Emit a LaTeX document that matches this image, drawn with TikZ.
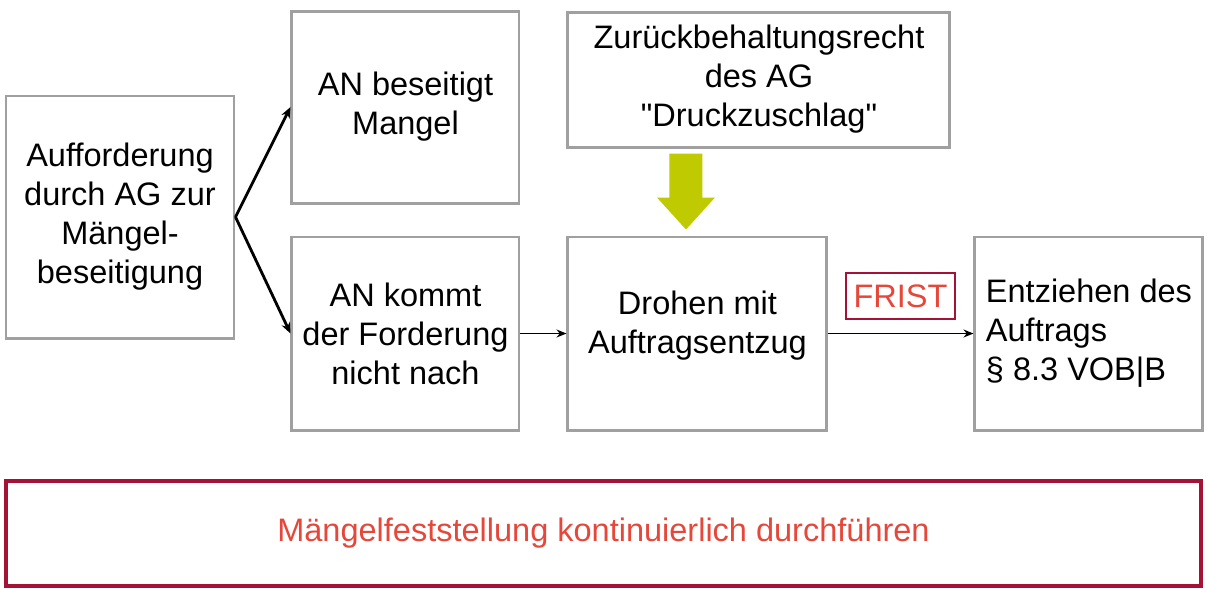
\documentclass[tikz,border=0pt]{standalone}
\usepackage{fontspec}
\setmainfont{Liberation Sans}[Ligatures=TeXOff]
\usetikzlibrary{arrows.meta, positioning, calc}
\definecolor{rahmengrau}{HTML}{A0A0A0}
\definecolor{weinrot}{HTML}{A51237}
\definecolor{textrot}{HTML}{E5473A}
\definecolor{lindgruen}{HTML}{BFCB00}
\tikzstyle{kasten} = [rectangle, draw=rahmengrau, line width=1.7pt, align=center, inner sep=0pt, font=\fontsize{18.5}{22.2}\selectfont]
\tikzstyle{rotkasten} = [rectangle, draw=weinrot, text=textrot, inner sep=0pt, font=\fontsize{18.5}{22.2}\selectfont]
\tikzstyle{pfeil} = [line width=1.6pt, -{Stealth[length=2.2mm, width=1.8mm]}]
\tikzstyle{linie} = [line width=0.8pt, -{Stealth[length=2mm, width=1.6mm]}]

\begin{document}
\begin{tikzpicture}
    \useasboundingbox (0,0) rectangle (24.34,-11.86);
    % Nodes
    \node[kasten, minimum width=4.56cm, minimum height=4.84cm] (aufford) at (2.40,-4.34) {Aufforderung\\durch AG zur\\Mängel-\\beseitigung};
    \node[kasten, minimum width=4.54cm, minimum height=3.86cm, anchor=west] (kommt) at ([xshift=1.10cm, yshift=-2.33cm]aufford.east) {AN kommt\\der Forderung\\nicht nach};
    \node[kasten, minimum width=4.54cm, minimum height=3.84cm, above=0.62cm of kommt] (beseitigt) {AN beseitigt\\Mangel};
    \node[kasten, minimum width=5.18cm, minimum height=3.86cm, text depth=0.47cm, right=0.92cm of kommt] (drohen) {Drohen mit\\Auftragsentzug};
    \node[kasten, minimum width=4.56cm, minimum height=3.86cm, right=2.90cm of drohen, align=left] (entzug) {Entziehen des\\Auftrags\\§ 8.3 VOB|B};
    \node[kasten, minimum width=7.64cm, minimum height=2.70cm, anchor=south west] (zurueck) at ([yshift=1.74cm]drohen.north west) {Zurückbehaltungsrecht\\des AG\\"Druckzuschlag"};

    % Frist und Hinweis
    \node[rotkasten, line width=0.9pt, minimum width=2.18cm, minimum height=0.92cm] (frist) at (18.01,-5.92) {FRIST};
    \node[rotkasten, line width=2.2pt, minimum width=23.9cm, minimum height=2.1cm] (hinweis) at (12.07,-10.67) {Mängelfeststellung kontinuierlich durchführen};

    % Druckpfeil
    \coordinate (spitze) at ([xshift=-0.23cm, yshift=0.12cm]drohen.north);
    \fill[lindgruen] (spitze) -- ++(-0.58,0.64) -- ++(0.25,0) -- ++(0,0.88) -- ++(0.66,0) -- ++(0,-0.88) -- ++(0.25,0) -- cycle;

    % Arrows
    \draw[pfeil] (aufford.east) -- (beseitigt.west);
    \draw[pfeil] (aufford.east) -- (kommt.west);
    \draw[linie] (kommt) -- (drohen);
    \draw[linie] (drohen) -- (entzug);
\end{tikzpicture}
\end{document}
